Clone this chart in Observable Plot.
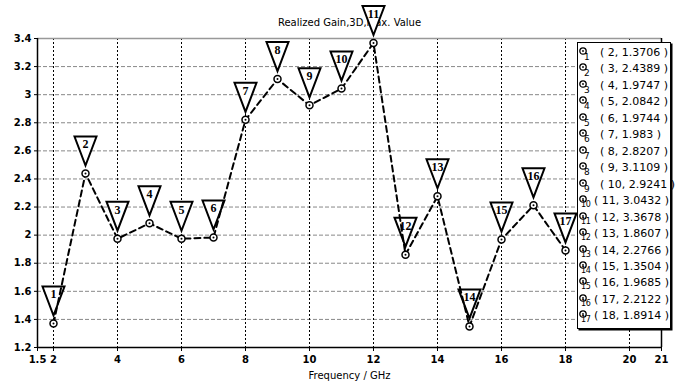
<!DOCTYPE html>
<html><head><meta charset="utf-8">
<script src="https://cdn.jsdelivr.net/npm/d3@7"></script>
<script src="https://cdn.jsdelivr.net/npm/@observablehq/plot@0.6"></script>
<style>
body{margin:0;background:#fff;}
#wrap{position:relative;width:680px;height:385px;}
#legend{position:absolute;left:577px;top:42px;width:92px;height:285px;background:#fff;border:1px solid #000;box-shadow:1.5px 1.5px 0 #000;font-family:"DejaVu Sans",sans-serif;font-size:11px;}
.row{position:absolute;left:0;height:16px;white-space:nowrap;}
.row svg{position:absolute;left:0px;top:-1px;}
.row .sub{position:absolute;left:6px;top:6px;font-size:9px;line-height:10px;}
.row .txt{position:absolute;left:22px;top:0;}
.row.wide .sub{left:3px;font-size:8px;letter-spacing:-0.3px;}
.row.wide .txt{left:16px;}
</style></head>
<body><div id="wrap"><div id="chart"></div><div id="legend"></div></div>
<script>
const freq = [2,3,4,5,6,7,8,9,10,11,12,13,14,15,16,17,18];
const gain = [1.3706,2.4389,1.9747,2.0842,1.9744,1.983,2.8207,3.1109,2.9241,3.0432,3.3678,1.8607,2.2766,1.3504,1.9685,2.2122,1.8914];
const markerIds = [1,2,3,4,5,6,7,8,9,10,11,12,13,14,15,16,17];
const legendText = ["( 2, 1.3706 )","( 3, 2.4389 )","( 4, 1.9747 )","( 5, 2.0842 )","( 6, 1.9744 )","( 7, 1.983 )","( 8, 2.8207 )","( 9, 3.1109 )","( 10, 2.9241 )","( 11, 3.0432 )","( 12, 3.3678 )","( 13, 1.8607 )","( 14, 2.2766 )","( 15, 1.3504 )","( 16, 1.9685 )","( 17, 2.2122 )","( 18, 1.8914 )"];
const xDomain = [1.5, 21];
const yDomain = [1.2, 3.4];
const xTicks = [1.5,2,4,6,8,10,12,14,16,18,20,21];
const xGrid = [2,4,6,8,10,12,14,16,18,20];
const yTicks = [1.2,1.4,1.6,1.8,2,2.2,2.4,2.6,2.8,3,3.2,3.4];
const yGrid = [1.4,1.6,1.8,2,2.2,2.4,2.6,2.8,3,3.2];
const title = "Realized Gain,3D,Max. Value";
const xLabel = "Frequency / GHz";

const data = freq.map((f,i)=>({f, g:gain[i], id:markerIds[i]}));
const invTri = {draw(ctx){ ctx.moveTo(-11,-37); ctx.lineTo(11,-37); ctx.lineTo(0,-8); ctx.closePath(); }};

const chart = Plot.plot({
  width:680, height:385,
  marginLeft:37, marginRight:19, marginTop:38, marginBottom:38,
  style:{fontFamily:"DejaVu Sans, sans-serif", fontSize:"10px", fontWeight:"bold", color:"#000", background:"#fff"},
  x:{domain:xDomain, ticks:xTicks, tickFormat:d=>String(d), tickSize:4, tickPadding:4, label:null},
  y:{domain:yDomain, ticks:yTicks, tickFormat:d=>String(+d.toFixed(1)), tickSize:3, tickPadding:3, label:null},
  marks:[
    Plot.ruleY(yGrid,{stroke:"#888", strokeDasharray:"4,2", strokeWidth:1}),
    Plot.ruleX(xGrid,{stroke:"#000", strokeDasharray:"2,2", strokeWidth:1}),
    Plot.ruleY([yDomain[1]],{stroke:"#999", strokeWidth:1.5}),
    Plot.ruleX([xDomain[1]],{stroke:"#000", strokeWidth:1.5}),
    Plot.ruleX([xDomain[0]],{stroke:"#000", strokeWidth:1.5}),
    Plot.ruleY([yDomain[0]],{stroke:"#000", strokeWidth:1.5}),
    Plot.text([title],{frameAnchor:"top", dy:-20, fontWeight:"normal", fontSize:10, fill:"#000"}),
    Plot.text([xLabel],{frameAnchor:"bottom", dy:31, fontWeight:"normal", fontSize:10, fill:"#000"}),
    Plot.dot(data,{x:"f", y:"g", symbol:invTri, r:5, stroke:"#000", strokeWidth:2, fill:"#fff"}),
    Plot.text(data,{x:"f", y:"g", text:"id", dy:-29, fontFamily:"Liberation Serif, serif", fontSize:12, fontWeight:"bold", fill:"#000"}),
    Plot.line(data,{x:"f", y:"g", stroke:"#000", strokeWidth:2, strokeDasharray:"6,4"}),
    Plot.dot(data,{x:"f", y:"g", r:3.5, stroke:"#000", strokeWidth:1.5, fill:"#fff"}),
    Plot.dot(data,{x:"f", y:"g", r:1, fill:"#000"})
  ]
});
document.getElementById("chart").appendChild(chart);

const leg = document.getElementById("legend");
legendText.forEach((t,i)=>{
  const r = document.createElement("div");
  r.className = "row" + (markerIds[i] >= 10 ? " wide" : "");
  r.style.top = (3 + i*16.46) + "px";
  r.innerHTML = `<svg width="10" height="12"><circle cx="5" cy="6" r="3.2" fill="#fff" stroke="#000" stroke-width="1.3"/><circle cx="5" cy="6" r="0.9" fill="#000"/></svg><span class="sub">${markerIds[i]}</span><span class="txt">${t}</span>`;
  leg.appendChild(r);
});
</script>
</body></html>
